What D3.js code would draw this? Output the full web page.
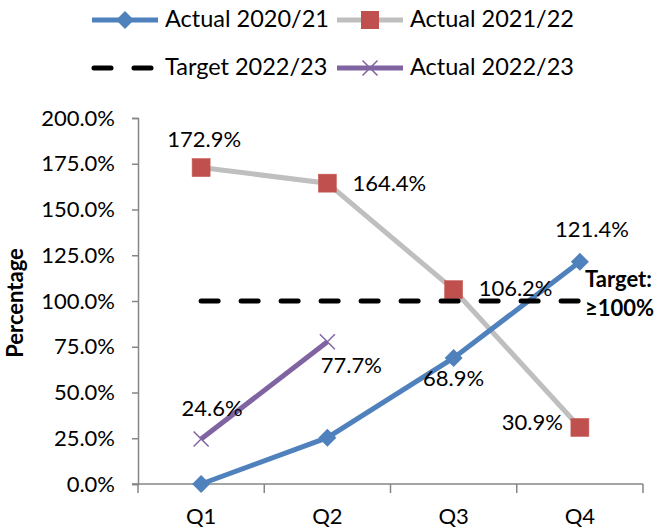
<!DOCTYPE html>
<html>
<head>
<meta charset="utf-8">
<script src="https://cdn.jsdelivr.net/npm/d3@7"></script>
<style>
  html, body { margin: 0; padding: 0; background: #fff; }
  svg { display: block; font-family: Lato, "Open Sans", sans-serif; }
</style>
</head>
<body>
<svg id="chart" width="660" height="529"></svg>
<script>
// Quarterly performance, percentage of target achieved
const categories = ["Q1", "Q2", "Q3", "Q4"];
const actual2021 = [0.0, 25.3, 68.9, 121.4];      // Actual 2020/21
const actual2122 = [172.9, 164.4, 106.2, 30.9];   // Actual 2021/22
const target2223 = [100, 100, 100, 100];          // Target 2022/23
const actual2223 = [24.6, 77.7];                  // Actual 2022/23 (Q1–Q2 so far)
const yTicks = [0, 25, 50, 75, 100, 125, 150, 175, 200];

const svg = d3.select("#chart");
const plot = { left: 138, right: 643, top: 118, bottom: 484 };

const x = d3.scaleBand().domain(categories).range([plot.left, plot.right]);
const cx = c => x(c) + x.bandwidth() / 2;
const y = d3.scaleLinear().domain([0, 200]).range([plot.bottom, plot.top]);

const AXIS = "#868686";
const FONT = 22;
const LEGEND_FONT = 23.5;

// ---- Y axis
const yAxis = svg.append("g")
  .attr("transform", `translate(${plot.left},0)`)
  .call(d3.axisLeft(y).tickValues(yTicks).tickSize(6).tickPadding(17)
    .tickFormat(d => d.toFixed(1) + "%"));
yAxis.select(".domain").attr("stroke", AXIS).attr("stroke-width", 1.5);
yAxis.selectAll(".tick line").attr("stroke", AXIS).attr("stroke-width", 1.5);
yAxis.selectAll(".tick text").attr("font-size", FONT).attr("fill", "#000")
  .attr("font-family", "Lato, sans-serif");

// ---- X axis (ticks on category boundaries)
const xg = svg.append("g");
xg.append("line")
  .attr("x1", plot.left - 6).attr("x2", plot.right)
  .attr("y1", plot.bottom).attr("y2", plot.bottom)
  .attr("stroke", AXIS).attr("stroke-width", 1.5);
const bounds = categories.map(c => x(c)).concat([x(categories[categories.length - 1]) + x.bandwidth()]);
xg.selectAll("line.tick").data(bounds).join("line")
  .attr("class", "tick")
  .attr("x1", d => d).attr("x2", d => d)
  .attr("y1", plot.bottom).attr("y2", plot.bottom + 9)
  .attr("stroke", AXIS).attr("stroke-width", 1.5);
xg.selectAll("text").data(categories).join("text")
  .attr("x", d => cx(d)).attr("y", plot.bottom + 34)
  .attr("text-anchor", "middle").attr("dominant-baseline", "middle")
  .attr("font-size", FONT).text(d => d);

// ---- Y axis title
svg.append("text")
  .attr("transform", `translate(17,${(plot.top + plot.bottom) / 2 + 2}) rotate(-90)`)
  .attr("text-anchor", "middle").attr("dominant-baseline", "middle")
  .attr("font-size", FONT).attr("font-weight", "bold").text("Percentage");

const line = d3.line().x((d, i) => cx(categories[i])).y(d => y(d));

// ---- Series
const COL = { blue: "#4F81BD", gray: "#BFBFBF", red: "#C0504D", purple: "#8064A2" };

// Actual 2021/22 (gray line, red squares)
svg.append("path").datum(actual2122).attr("d", line)
  .attr("fill", "none").attr("stroke", COL.gray).attr("stroke-width", 5);
svg.selectAll("rect.sq").data(actual2122).join("rect")
  .attr("class", "sq")
  .attr("x", (d, i) => cx(categories[i]) - 9).attr("y", d => y(d) - 9)
  .attr("width", 18).attr("height", 18)
  .attr("fill", COL.red).attr("stroke", "#c9605d").attr("stroke-width", 0.6);

// Actual 2020/21 (blue line, diamonds)
svg.append("path").datum(actual2021).attr("d", line)
  .attr("fill", "none").attr("stroke", COL.blue).attr("stroke-width", 5);
const diamond = (s) => `M0,${-s}L${s},0L0,${s}L${-s},0Z`;
svg.selectAll("path.dm").data(actual2021).join("path")
  .attr("class", "dm")
  .attr("transform", (d, i) => `translate(${cx(categories[i])},${y(d)})`)
  .attr("d", diamond(9)).attr("fill", COL.blue);

// Target 2022/23 (black dashed)
svg.append("path").datum(target2223).attr("d", line)
  .attr("fill", "none").attr("stroke", "#000").attr("stroke-width", 5)
  .attr("stroke-dasharray", "17 23").attr("stroke-linecap", "round");

// Actual 2022/23 (purple line, x markers)
svg.append("path").datum(actual2223).attr("d", line)
  .attr("fill", "none").attr("stroke", COL.purple).attr("stroke-width", 5);
const xMark = (s) => `M${-s},${-s}L${s},${s}M${-s},${s}L${s},${-s}`;
svg.selectAll("path.xm").data(actual2223).join("path")
  .attr("class", "xm")
  .attr("transform", (d, i) => `translate(${cx(categories[i])},${y(d)})`)
  .attr("d", xMark(7.5)).attr("fill", "none").attr("stroke", COL.purple).attr("stroke-width", 1.5);

// ---- Data labels (placement offsets relative to each point)
const labelPlacement = [
  { series: actual2122, i: 0, dx: 3,   dy: -26, anchor: "middle" },
  { series: actual2122, i: 1, dx: 25,  dy: 2,   anchor: "start" },
  { series: actual2122, i: 2, dx: 25,  dy: 1,   anchor: "start" },
  { series: actual2122, i: 3, dx: -17, dy: -3,  anchor: "end" },
  { series: actual2021, i: 2, dx: 0,   dy: 23,  anchor: "middle" },
  { series: actual2021, i: 3, dx: 12,  dy: -30, anchor: "middle" },
  { series: actual2223, i: 0, dx: 11,  dy: -29, anchor: "middle" },
  { series: actual2223, i: 1, dx: 24,  dy: 26,  anchor: "middle" }
];
svg.selectAll("text.lbl").data(labelPlacement).join("text")
  .attr("class", "lbl")
  .attr("x", d => cx(categories[d.i]) + d.dx)
  .attr("y", d => y(d.series[d.i]) + d.dy)
  .attr("text-anchor", d => d.anchor).attr("dominant-baseline", "middle")
  .attr("font-size", FONT)
  .text(d => d.series[d.i].toFixed(1) + "%");

// Target annotation
const tg = svg.append("text").attr("font-size", FONT).attr("font-weight", "bold");
tg.append("tspan").attr("x", 585).attr("y", y(100) - 20).attr("dominant-baseline", "middle").text("Target:");
tg.append("tspan").attr("x", 585).attr("y", y(100) + 9).attr("dominant-baseline", "middle").text("≥100%");

// ---- Legend
const legendItems = [
  { name: "Actual 2020/21", color: COL.blue, marker: "diamond", row: 0, col: 0 },
  { name: "Actual 2021/22", color: COL.gray, marker: "square", row: 0, col: 1 },
  { name: "Target 2022/23", color: "#000", marker: "dash", row: 1, col: 0 },
  { name: "Actual 2022/23", color: COL.purple, marker: "x", row: 1, col: 1 }
];
const colX = [92, 337], rowY = [20, 68];
const lg = svg.append("g");
legendItems.forEach(it => {
  const x0 = colX[it.col], yy = rowY[it.row];
  const g = lg.append("g").attr("transform", `translate(${x0},${yy})`);
  if (it.marker === "dash") {
    g.append("line").attr("x1", 2).attr("x2", 64).attr("y1", 0).attr("y2", 0)
      .attr("stroke", "#000").attr("stroke-width", 5)
      .attr("stroke-dasharray", "17 23").attr("stroke-linecap", "round");
  } else {
    g.append("line").attr("x1", 0).attr("x2", 66).attr("y1", 0).attr("y2", 0)
      .attr("stroke", it.color).attr("stroke-width", 5);
  }
  if (it.marker === "diamond") {
    g.append("path").attr("transform", "translate(33,0)").attr("d", diamond(9)).attr("fill", COL.blue);
  } else if (it.marker === "square") {
    g.append("rect").attr("x", 24).attr("y", -9).attr("width", 18).attr("height", 18).attr("fill", COL.red);
  } else if (it.marker === "x") {
    g.append("path").attr("transform", "translate(33,0)").attr("d", xMark(7.5))
      .attr("fill", "none").attr("stroke", COL.purple).attr("stroke-width", 1.5);
  }
  g.append("text").attr("x", 73).attr("y", 1).attr("dominant-baseline", "middle")
    .attr("font-size", LEGEND_FONT).text(it.name);
});
</script>
</body>
</html>
